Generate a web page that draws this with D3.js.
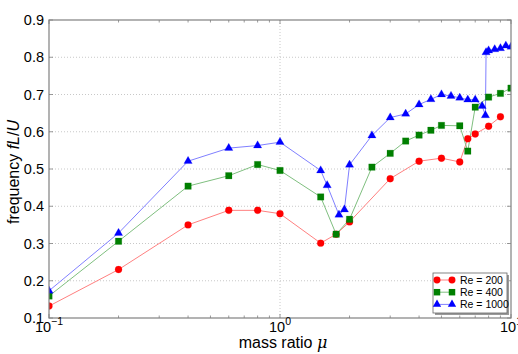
<!DOCTYPE html>
<html><head><meta charset="utf-8">
<script src="https://cdn.jsdelivr.net/npm/d3@7"></script>
<style>body{margin:0;background:#fff}svg{display:block}</style>
</head><body><svg id="c" width="518" height="354"></svg>
<script>
// ---- data ----
const re200X = [0.1,0.2,0.4,0.6,0.8,1.0,1.5,1.75,2.0,3.0,4.0,5.0,6.0,6.5,7.0,8.0,9.0];
const re200Y = [0.132,0.23,0.35,0.389,0.389,0.38,0.301,0.325,0.358,0.474,0.521,0.529,0.519,0.581,0.594,0.615,0.64];
const re400X = [0.1,0.2,0.4,0.6,0.8,1.0,1.5,1.75,2.0,2.5,3.0,3.5,4.0,4.5,5.0,6.0,6.5,7.0,8.0,9.0,10.0];
const re400Y = [0.159,0.306,0.454,0.482,0.512,0.496,0.425,0.325,0.365,0.505,0.542,0.575,0.591,0.604,0.617,0.616,0.548,0.666,0.693,0.703,0.717];
const re1000X = [0.1,0.2,0.4,0.6,0.8,1.0,1.5,1.6,1.8,1.9,2.0,2.5,3.0,3.5,4.0,4.5,5.0,5.5,6.0,6.5,7.0,7.5,7.75,7.8,8.0,8.5,9.0,9.5,10.0];
const re1000Y = [0.173,0.328,0.521,0.556,0.563,0.572,0.496,0.456,0.377,0.391,0.511,0.590,0.638,0.648,0.673,0.687,0.700,0.696,0.691,0.686,0.686,0.669,0.644,0.813,0.818,0.821,0.824,0.831,0.828];
const seriesNames = ["Re = 200","Re = 400","Re = 1000"];
const yTicks = [0.1,0.2,0.3,0.4,0.5,0.6,0.7,0.8,0.9];
const xMajor = [0.1,1,10];
const xMajorExp = ["\u22121","0","1"];

// ---- layout ----
const L=49, R=511, T=20, B=318;
const svg = d3.select("#c");
const font = "'Liberation Sans', Arial, sans-serif";
const x = d3.scaleLog().domain([0.1,10]).range([L,R]);
const y = d3.scaleLinear().domain([0.1,0.9]).range([B,T]);

svg.append("defs").append("clipPath").attr("id","clip")
  .append("rect").attr("x",L).attr("y",T).attr("width",R-L).attr("height",B-T);

// grid
const gridC = "#c8c8c8";
svg.append("g").selectAll("line").data(yTicks.slice(1,-1)).join("line")
  .attr("x1",L).attr("x2",R).attr("y1",d=>y(d)).attr("y2",d=>y(d))
  .attr("stroke",gridC).attr("stroke-dasharray","1,2").attr("stroke-width",1);
svg.append("g").selectAll("line").data([1]).join("line")
  .attr("x1",d=>x(d)).attr("x2",d=>x(d)).attr("y1",T).attr("y2",B)
  .attr("stroke",gridC).attr("stroke-dasharray","1,2").attr("stroke-width",1);

// series
const series = [
  {xs:re200X, ys:re200Y, mc:"#ff0000", lc:"#ff8080", m:"circle"},
  {xs:re400X, ys:re400Y, mc:"#007f00", lc:"#7fbf7f", m:"square"},
  {xs:re1000X, ys:re1000Y, mc:"#0000ff", lc:"#8080ff", m:"triangle"}
];
const symGen = {
  circle: d3.symbol(d3.symbolCircle, 38),
  square: d3.symbol(d3.symbolSquare, 42),
  triangle: d3.symbol(d3.symbolTriangle, 30)
};
const plot = svg.append("g").attr("clip-path","url(#clip)");
const line = d3.line().x(d=>x(d[0])).y(d=>y(d[1]));
series.forEach(s=>{
  const pts = s.xs.map((v,i)=>[v,s.ys[i]]);
  plot.append("path").datum(pts).attr("d",line).attr("fill","none")
    .attr("stroke",s.lc).attr("stroke-width",1);
});
series.forEach(s=>{
  const pts = s.xs.map((v,i)=>[v,s.ys[i]]);
  plot.append("g").selectAll("path").data(pts).join("path")
    .attr("d",symGen[s.m]())
    .attr("transform",d=>`translate(${x(d[0])},${y(d[1])})`)
    .attr("fill",s.mc).attr("stroke",s.mc).attr("stroke-width",0.5).attr("stroke-opacity",0.4);
});

// spines
const spineC = "#808080";
svg.append("rect").attr("x",L).attr("y",T).attr("width",R-L).attr("height",B-T)
  .attr("fill","none").attr("stroke",spineC).attr("stroke-width",1.2);

// ticks (inward, all sides)
const tickG = svg.append("g").attr("stroke",spineC).attr("stroke-width",0.8);
yTicks.forEach(v=>{
  tickG.append("line").attr("x1",L).attr("x2",L+4).attr("y1",y(v)).attr("y2",y(v));
  tickG.append("line").attr("x1",R).attr("x2",R-4).attr("y1",y(v)).attr("y2",y(v));
});
const xMinor = [];
[0.1,1].forEach(b=>{for(let k=2;k<=9;k++) xMinor.push(b*k);});
xMinor.forEach(v=>{
  tickG.append("line").attr("x1",x(v)).attr("x2",x(v)).attr("y1",B).attr("y2",B-2.5);
  tickG.append("line").attr("x1",x(v)).attr("x2",x(v)).attr("y1",T).attr("y2",T+2.5);
});
xMajor.forEach(v=>{
  tickG.append("line").attr("x1",x(v)).attr("x2",x(v)).attr("y1",B).attr("y2",B-4);
  tickG.append("line").attr("x1",x(v)).attr("x2",x(v)).attr("y1",T).attr("y2",T+4);
});

// y tick labels
svg.append("g").selectAll("text").data(yTicks).join("text")
  .attr("x",L-5).attr("y",d=>y(d)+5).attr("text-anchor","end")
  .attr("font-family",font).attr("font-size",14.5).attr("fill","#000")
  .text(d=>d.toFixed(1));

// x tick labels 10^n
xMajor.forEach((v,i)=>{
  const t = svg.append("text").attr("x",x(v)).attr("y",332).attr("text-anchor","middle")
    .attr("font-family",font).attr("font-size",14.5).attr("fill","#000");
  t.append("tspan").text("10");
  t.append("tspan").attr("dy",-7).attr("font-size",10.5).text(xMajorExp[i]);
});

// axis labels
const xl = svg.append("text").attr("x",283).attr("y",348).attr("text-anchor","middle")
  .attr("font-family",font).attr("font-size",16).attr("fill","#000");
xl.append("tspan").text("mass ratio ");
xl.append("tspan").attr("font-style","italic").attr("font-family","'DejaVu Serif', serif").text("\u03bc");

const yl = svg.append("text").attr("transform","translate(19,172) rotate(-90)")
  .attr("text-anchor","middle").attr("font-family",font).attr("font-size",16).attr("fill","#000");
yl.append("tspan").text("frequency ");
yl.append("tspan").attr("font-style","italic").text("fL");
yl.append("tspan").text("/");
yl.append("tspan").attr("font-style","italic").text("U");

// legend
const lg = svg.append("g");
const lx=433, ly=273, lw=74, lh=40;
lg.append("rect").attr("x",lx+2).attr("y",ly+2).attr("width",lw).attr("height",lh).attr("fill","#9a9a9a");
lg.append("rect").attr("x",lx).attr("y",ly).attr("width",lw).attr("height",lh)
  .attr("fill","#fff").attr("stroke","#666").attr("stroke-width",0.8);
series.forEach((s,i)=>{
  const yy = ly+7+i*12.2;
  lg.append("line").attr("x1",lx+4).attr("x2",lx+19).attr("y1",yy).attr("y2",yy)
    .attr("stroke",s.lc).attr("stroke-width",1);
  [lx+4,lx+19].forEach(px=>{
    lg.append("path").attr("d",symGen[s.m]()).attr("transform",`translate(${px},${yy})`)
      .attr("fill",s.mc);
  });
  lg.append("text").attr("x",lx+27).attr("y",yy+3.8).attr("font-family",font)
    .attr("font-size",10.5).attr("fill","#000").text(seriesNames[i]);
});
</script>
</body></html>
